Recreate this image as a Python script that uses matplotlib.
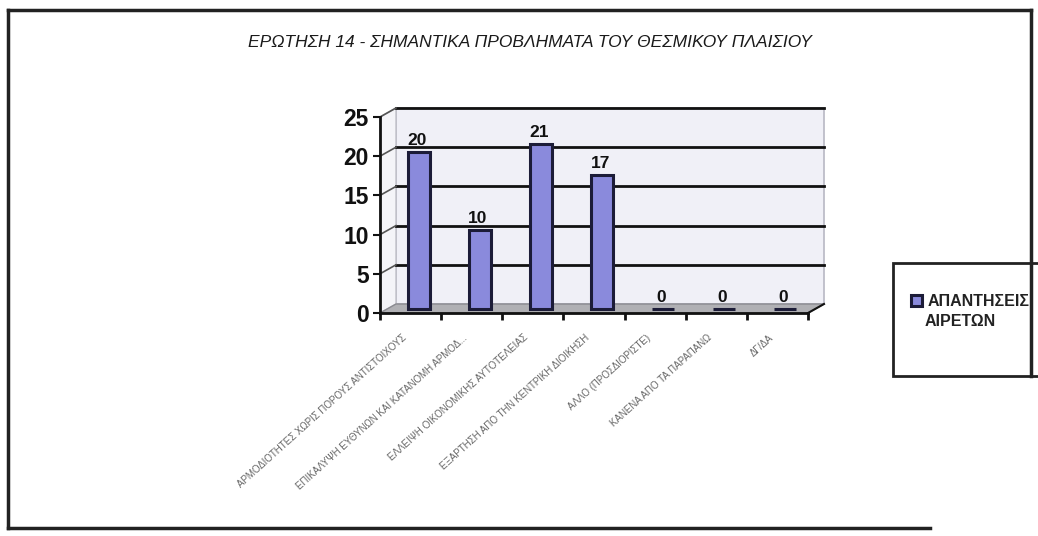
import matplotlib
matplotlib.use("Agg")
import matplotlib.pyplot as plt
import matplotlib.transforms as mtransforms
from matplotlib.patches import Rectangle, Polygon
from matplotlib.lines import Line2D

plt.rcParams['font.family'] = ['Liberation Sans', 'DejaVu Sans']

title = "ΕΡΩΤΗΣΗ 14 - ΣΗΜΑΝΤΙΚΑ ΠΡΟΒΛΗΜΑΤΑ ΤΟΥ ΘΕΣΜΙΚΟΥ ΠΛΑΙΣΙΟΥ"
categories = [
    "ΑΡΜΟΔΙΟΤΗΤΕΣ ΧΩΡΙΣ ΠΟΡΟΥΣ ΑΝΤΙΣΤΟΙΧΟΥΣ",
    "ΕΠΙΚΑΛΥΨΗ ΕΥΘΥΝΩΝ ΚΑΙ ΚΑΤΑΝΟΜΗ ΑΡΜΟΔ...",
    "ΕΛΛΕΙΨΗ ΟΙΚΟΝΟΜΙΚΗΣ ΑΥΤΟΤΕΛΕΙΑΣ",
    "ΕΞΑΡΤΗΣΗ ΑΠΟ ΤΗΝ ΚΕΝΤΡΙΚΗ ΔΙΟΙΚΗΣΗ",
    "ΑΛΛΟ (ΠΡΟΣΔΙΟΡΙΣΤΕ)",
    "ΚΑΝΕΝΑ ΑΠΟ ΤΑ ΠΑΡΑΠΑΝΩ",
    "ΔΓ/ΔΑ",
]
values = [20, 10, 21, 17, 0, 0, 0]
series_name = "ΑΠΑΝΤΗΣΕΙΣ\nΑΙΡΕΤΩΝ"
yticks = [0, 5, 10, 15, 20, 25]

W, H = 1038, 536
fig = plt.figure(figsize=(W / 100, H / 100), dpi=100)

# axes placement in pixels
x0, x1 = 380, 808
y0, y1 = 313, 117
ax = fig.add_axes([x0 / W, (H - y0) / H, (x1 - x0) / W, (y0 - y1) / H])
ax.set_xlim(-0.5, len(categories) - 0.5)
ax.set_ylim(0, 25)
ax.patch.set_alpha(0)
for s in ax.spines.values():
    s.set_visible(False)

dx, dy = 16, 9  # depth offset in pixels
back = ax.transData + mtransforms.ScaledTranslation(dx / 100, dy / 100, fig.dpi_scale_trans)
mid = ax.transData + mtransforms.ScaledTranslation(dx / 200, dy / 200, fig.dpi_scale_trans)

xl, xr = -0.5, len(categories) - 0.5
inv = ax.transData.inverted()
# back wall
ax.add_patch(Rectangle((xl, 0), xr - xl, 25, transform=back, facecolor='#f0f0f7',
                       edgecolor='#b8b8c4', lw=1.2, zorder=0, clip_on=False))
# left side wall
lw_pts = [ax.transData.transform((xl, 0)), back.transform((xl, 0)),
          back.transform((xl, 25)), ax.transData.transform((xl, 25))]
ax.add_patch(Polygon([inv.transform(p) for p in lw_pts], closed=True, facecolor='#f4f4f8',
                     edgecolor='#c0c0c8', lw=1, zorder=0, clip_on=False))
# floor
fl_pts = [ax.transData.transform((xl, 0)), ax.transData.transform((xr, 0)),
          back.transform((xr, 0)), back.transform((xl, 0))]
ax.add_patch(Polygon([inv.transform(p) for p in fl_pts], closed=True, facecolor='#b0b0b4',
                     edgecolor='#8a8a90', lw=1, zorder=1, clip_on=False))

# gridlines on back wall + diagonal connectors
for t in yticks[1:]:
    ax.add_line(Line2D([xl, xr], [t, t], transform=back, color='#111111', lw=2, zorder=1,
                       clip_on=False))
    a = inv.transform(ax.transData.transform((xl, t)))
    b = inv.transform(back.transform((xl, t)))
    ax.add_line(Line2D([a[0], b[0]], [a[1], b[1]], color='#555555', lw=1.2, zorder=1,
                       clip_on=False))

# bars
xs = list(range(len(categories)))
bars = ax.bar(xs, values, width=0.36, color='#8a8adc', edgecolor='#1c1c38', lw=2.2,
              transform=mid, zorder=3, clip_on=False)
for x, v in zip(xs, values):
    ax.text(x - 0.03, v + 0.5, str(v), transform=mid, ha='center', va='bottom', fontsize=12.5,
            fontweight='bold', color='#111111', zorder=4)

# front axes lines
ax.add_line(Line2D([xl, xl], [0, 25], color='#111111', lw=2, zorder=5, clip_on=False))
ax.add_line(Line2D([xl, xr], [0, 0], color='#111111', lw=2, zorder=5, clip_on=False))
c = inv.transform(back.transform((xr, 0)))
ax.add_line(Line2D([xr, c[0]], [0, c[1]], color='#111111', lw=1.5, zorder=5, clip_on=False))

ax.set_yticks(yticks)
ax.set_yticklabels([str(t) for t in yticks], fontsize=16.5, fontweight='bold', color='#111111')
ax.tick_params(axis='y', length=5, width=1.5, color='#111111', pad=3)
ax.set_xticks([x + 0.5 for x in xs[:-1]] + [-0.5, xr], minor=False)
ax.set_xticklabels([])
ax.tick_params(axis='x', length=5, width=2, color='#111111', direction='out')
ax.set_xticks([x - 0.15 for x in xs], minor=True)
ax.set_xticklabels(categories, minor=True, rotation=42, ha='right', va='top',
                   rotation_mode='anchor', fontsize=7, color='#666666',
                   family=['Liberation Sans Narrow', 'Liberation Sans', 'DejaVu Sans'])
ax.tick_params(axis='x', which='minor', length=0, pad=14)

# title
fig.text(530 / W, 1 - 42 / H, title, ha='center', va='center', fontsize=12.5,
         style='italic', color='#1a1a1a')

# legend frame
fig.patches.append(Rectangle((893 / W, 1 - 376 / H), 160 / W, 113 / H, transform=fig.transFigure,
                             facecolor='white', edgecolor='#222222', lw=2, zorder=1))
name_lines = series_name.split("\n")
leg = fig.legend(handles=[bars], labels=[name_lines[0]], loc='upper left',
                 bbox_to_anchor=(903 / W, 1 - 286 / H), frameon=False,
                 handlelength=0.7, handleheight=0.7, handletextpad=0.35, borderpad=0,
                 prop={'weight': 'bold', 'size': 11.5})
for t in leg.get_texts():
    t.set_color('#222222')
fig.text(925 / W, 1 - 322 / H, name_lines[1], ha='left', va='center', fontsize=11.5,
         fontweight='bold', color='#222222')

# outer border
fig.add_artist(Line2D([8 / W, 8 / W], [1 - 10 / H, 1 - 528 / H], transform=fig.transFigure,
                      color='#222222', lw=2.5))
fig.add_artist(Line2D([8 / W, 1031 / W], [1 - 10 / H, 1 - 10 / H], transform=fig.transFigure,
                      color='#222222', lw=2.5))
fig.add_artist(Line2D([1031 / W, 1031 / W], [1 - 10 / H, 1 - 376 / H], transform=fig.transFigure,
                      color='#222222', lw=2.5))
fig.add_artist(Line2D([8 / W, 930 / W], [1 - 528 / H, 1 - 528 / H], transform=fig.transFigure,
                      color='#222222', lw=2.5))

fig.savefig("out.png", dpi=100)
